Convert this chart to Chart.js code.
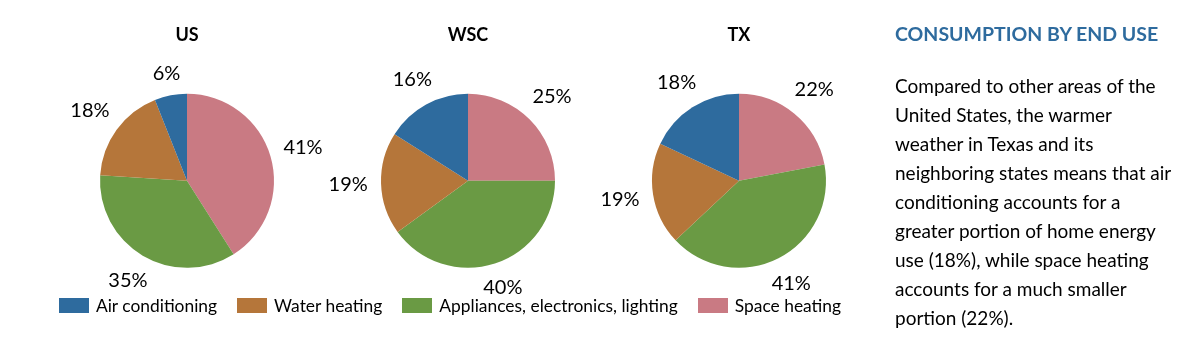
<!DOCTYPE html>
<html>
<head>
<meta charset="utf-8">
<script src="https://cdn.jsdelivr.net/npm/chart.js@4"></script>
<style>
  html, body { margin: 0; padding: 0; background: #fff; }
  body { width: 1200px; height: 340px; position: relative; overflow: hidden; font-family: Lato, "Open Sans", sans-serif; }
  .pie { position: absolute; top: 0; width: 300px; height: 340px; }
  #legend { position: absolute; left: 0; width: 900px; top: 295px; display: flex; justify-content: center; padding-left: 0; }
  #legend .item { display: flex; align-items: center; margin-right: 20px; font-size: 17.4px; color: #000; white-space: nowrap; }
  #legend .item:last-child { margin-right: 0; }
  #legend .box { width: 30px; height: 15px; margin-right: 7px; }
  #side { position: absolute; left: 895px; top: 22px; white-space: nowrap; }
  #side h2 { margin: 0; font-size: 19.5px; font-weight: 700; color: #2e6b9e; line-height: 24px; }
  #side p { margin: 0; margin-top: 25px; font-size: 19px; line-height: 29px; color: #000; }
</style>
</head>
<body>
<canvas id="pie-us" class="pie" style="left:37px"></canvas>
<canvas id="pie-wsc" class="pie" style="left:318px"></canvas>
<canvas id="pie-tx" class="pie" style="left:589px"></canvas>
<div id="legend"></div>
<div id="side">
  <h2>CONSUMPTION BY END USE</h2>
  <p>Compared to other areas of the<br>United States, the warmer<br>weather in Texas and its<br>neighboring states means that air<br>conditioning accounts for a<br>greater portion of home energy<br>use (18%), while space heating<br>accounts for a much smaller<br>portion (22%).</p>
</div>
<script>
// legend order
const categories = ["Air conditioning", "Water heating", "Appliances, electronics, lighting", "Space heating"];
const colors = ["#2e6b9e", "#b5763a", "#6a9a44", "#c97a83"];

const regions = ["US", "WSC", "TX"];
const usValues = [6, 18, 35, 41];
const wscValues = [16, 19, 40, 25];
const txValues = [18, 19, 41, 22];

/*
    Percent labels just outside each slice
*/
const outsideLabels = {
    id: "outsideLabels",
    afterDatasetsDraw(chart) {
        const ctx = chart.ctx;
        const meta = chart.getDatasetMeta(0);
        const data = chart.data.datasets[0].data;
        const fontSize = 20;
        ctx.save();
        ctx.font = fontSize + "px Lato, 'Open Sans', sans-serif";
        ctx.fillStyle = "#000";
        ctx.textAlign = "center";
        ctx.textBaseline = "middle";
        meta.data.forEach((arc, i) => {
            const p = arc.getProps(["x", "y", "startAngle", "endAngle", "outerRadius"], true);
            const mid = (p.startAngle + p.endAngle) / 2;
            const dx = Math.cos(mid), dy = Math.sin(mid);
            const text = data[i] + "%";
            const w = ctx.measureText(text).width;
            const h = fontSize * 0.7;
            const dist = p.outerRadius + 13 + Math.abs(dx) * w / 2 + Math.abs(dy) * h / 2;
            ctx.fillText(text, p.x + dx * dist, p.y + dy * dist);
        });
        ctx.restore();
    }
};

function makePie(id, title, values) {
    // slices run clockwise from the top, last category first
    let order = [3, 2, 1, 0];
    return new Chart(document.getElementById(id), {
        type: "pie",
        data: {
            labels: order.map(i => categories[i]),
            datasets: [{
                data: order.map(i => values[i]),
                backgroundColor: order.map(i => colors[i]),
                borderWidth: 0
            }]
        },
        options: {
            responsive: false,
            animation: false,
            radius: 87,
            layout: { padding: { bottom: 24 } },
            plugins: {
                legend: { display: false },
                tooltip: { enabled: false },
                title: {
                    display: true,
                    text: title,
                    color: "#000",
                    font: { family: "Lato, 'Open Sans', sans-serif", size: 18, weight: "bold", lineHeight: 1.2 },
                    padding: { top: 24, bottom: 0 }
                }
            }
        },
        plugins: [outsideLabels]
    });
}

for (const c of document.querySelectorAll("canvas.pie")) {
    c.width = 300;
    c.height = 340;
}

makePie("pie-us", regions[0], usValues);
makePie("pie-wsc", regions[1], wscValues);
makePie("pie-tx", regions[2], txValues);

let UILegend = document.getElementById("legend");
categories.forEach((name, i) => {
    let item = document.createElement("div");
    item.className = "item";
    let box = document.createElement("span");
    box.className = "box";
    box.style.background = colors[i];
    item.appendChild(box);
    item.appendChild(document.createTextNode(name));
    UILegend.appendChild(item);
});
</script>
</body>
</html>
